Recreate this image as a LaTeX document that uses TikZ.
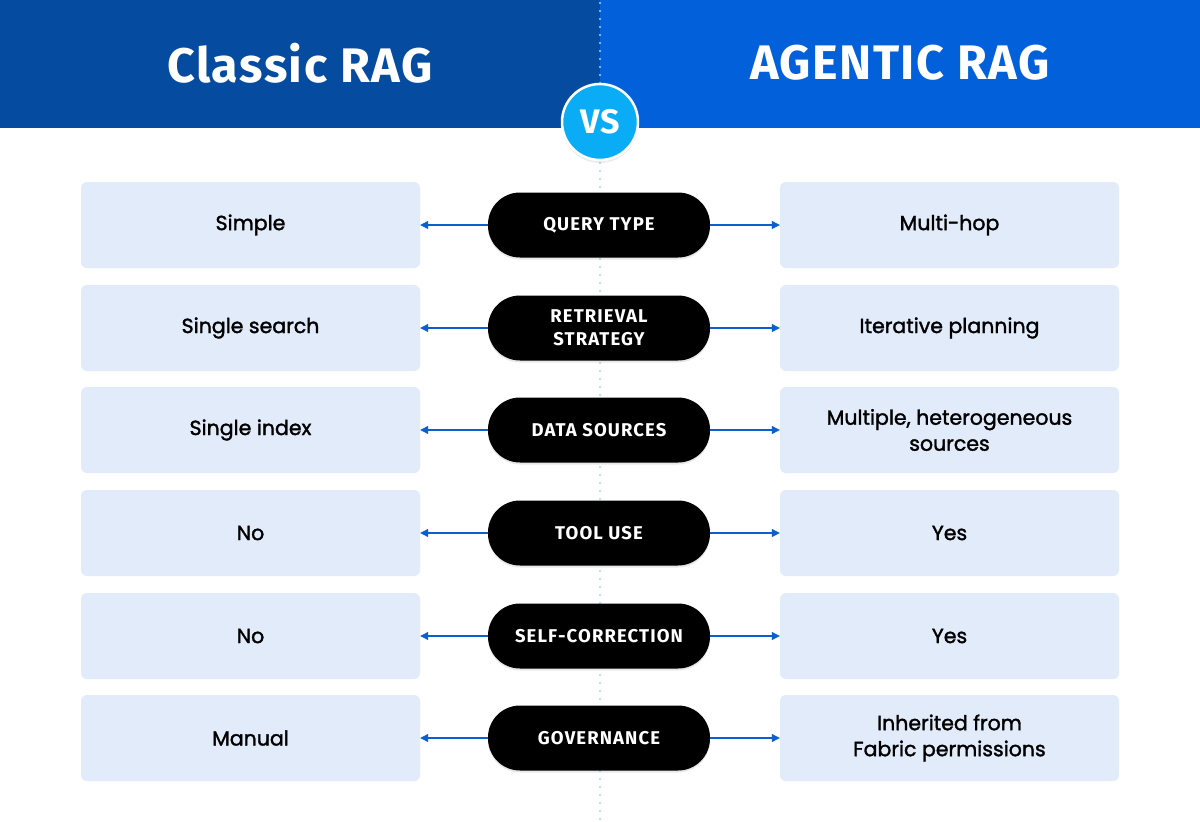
\documentclass[tikz,border=0pt]{standalone}
\usepackage{fontspec}
\setmainfont{Poppins}[FakeBold=1.6]
\newfontfamily\headfont{Fira Sans}[LetterSpace=3]
\newfontfamily\pillfont{Fira Sans}[LetterSpace=6]
\usetikzlibrary{arrows.meta,shadows}
\definecolor{leftblue}{HTML}{054BA0}
\definecolor{rightblue}{HTML}{0160DA}
\definecolor{vsblue}{HTML}{0AADF5}
\definecolor{boxfill}{HTML}{E1EBFA}
\definecolor{arrowblue}{HTML}{0B5FD0}
\definecolor{dotblue}{HTML}{A8D4F5}
\tikzset{
  cell/.style={fill=boxfill, rounded corners=6pt, minimum width=339pt, minimum height=86pt, align=center, font=\fontsize{20.5}{26}\selectfont, text=black, inner sep=0pt},
  pill/.style={fill=black, rounded corners=32pt, minimum width=222pt, minimum height=65pt, align=center, text=white, font=\pillfont\bfseries\fontsize{18.5}{23}\selectfont, inner sep=0pt, drop shadow={opacity=0.18, shadow xshift=0pt, shadow yshift=-2pt}},
  conn/.style={draw=arrowblue, line width=1.1pt, -{Triangle[length=8pt,width=8pt]}},
  heading/.style={text=white, font=\headfont\bfseries\fontsize{48.5}{52}\selectfont},
}
\begin{document}
\begin{tikzpicture}[x=1pt,y=-1pt]
\useasboundingbox (0,0) rectangle (1200,822);
\fill[white] (0,0) rectangle (1200,822);
\fill[leftblue] (0,0) rectangle (600,128);
\fill[rightblue] (600,0) rectangle (1200,128);
\draw[dotblue, line width=2.2pt, line cap=round, dash pattern=on 0pt off 8pt] (600,3) -- (600,822);
\node[heading] (hl) at (300,63) {Classic RAG};
\node[heading] (hr) at (900,63) {AGENTIC RAG};
\node[circle, fill=vsblue, draw=white, line width=2.5pt, minimum size=76pt, inner sep=0pt, text=white, font=\headfont\bfseries\fontsize{34}{36}\selectfont, drop shadow={opacity=0.15, shadow xshift=0pt, shadow yshift=-3pt}] (vs) at (600,122) {VS};
\foreach \i/\y/\l/\m/\r in {
  1/225/{Simple}/{QUERY TYPE}/{Multi-hop},
  2/328/{Single search}/{RETRIEVAL\\STRATEGY}/{Iterative planning},
  3/430/{Single index}/{DATA SOURCES}/{Multiple, heterogeneous\\sources},
  4/533/{No}/{TOOL USE}/{Yes},
  5/636/{No}/{SELF-CORRECTION}/{Yes},
  6/738/{Manual}/{GOVERNANCE}/{Inherited from\\Fabric permissions}} {
  \node[cell] (l\i) at (250.5,\y) {\l};
  \node[cell] (r\i) at (949.5,\y) {\r};
  \node[pill] (m\i) at (599,\y) {\m};
  \draw[conn] (m\i.west) -- (l\i.east);
  \draw[conn] (m\i.east) -- (r\i.east -| r\i.west);
}
\end{tikzpicture}
\end{document}
